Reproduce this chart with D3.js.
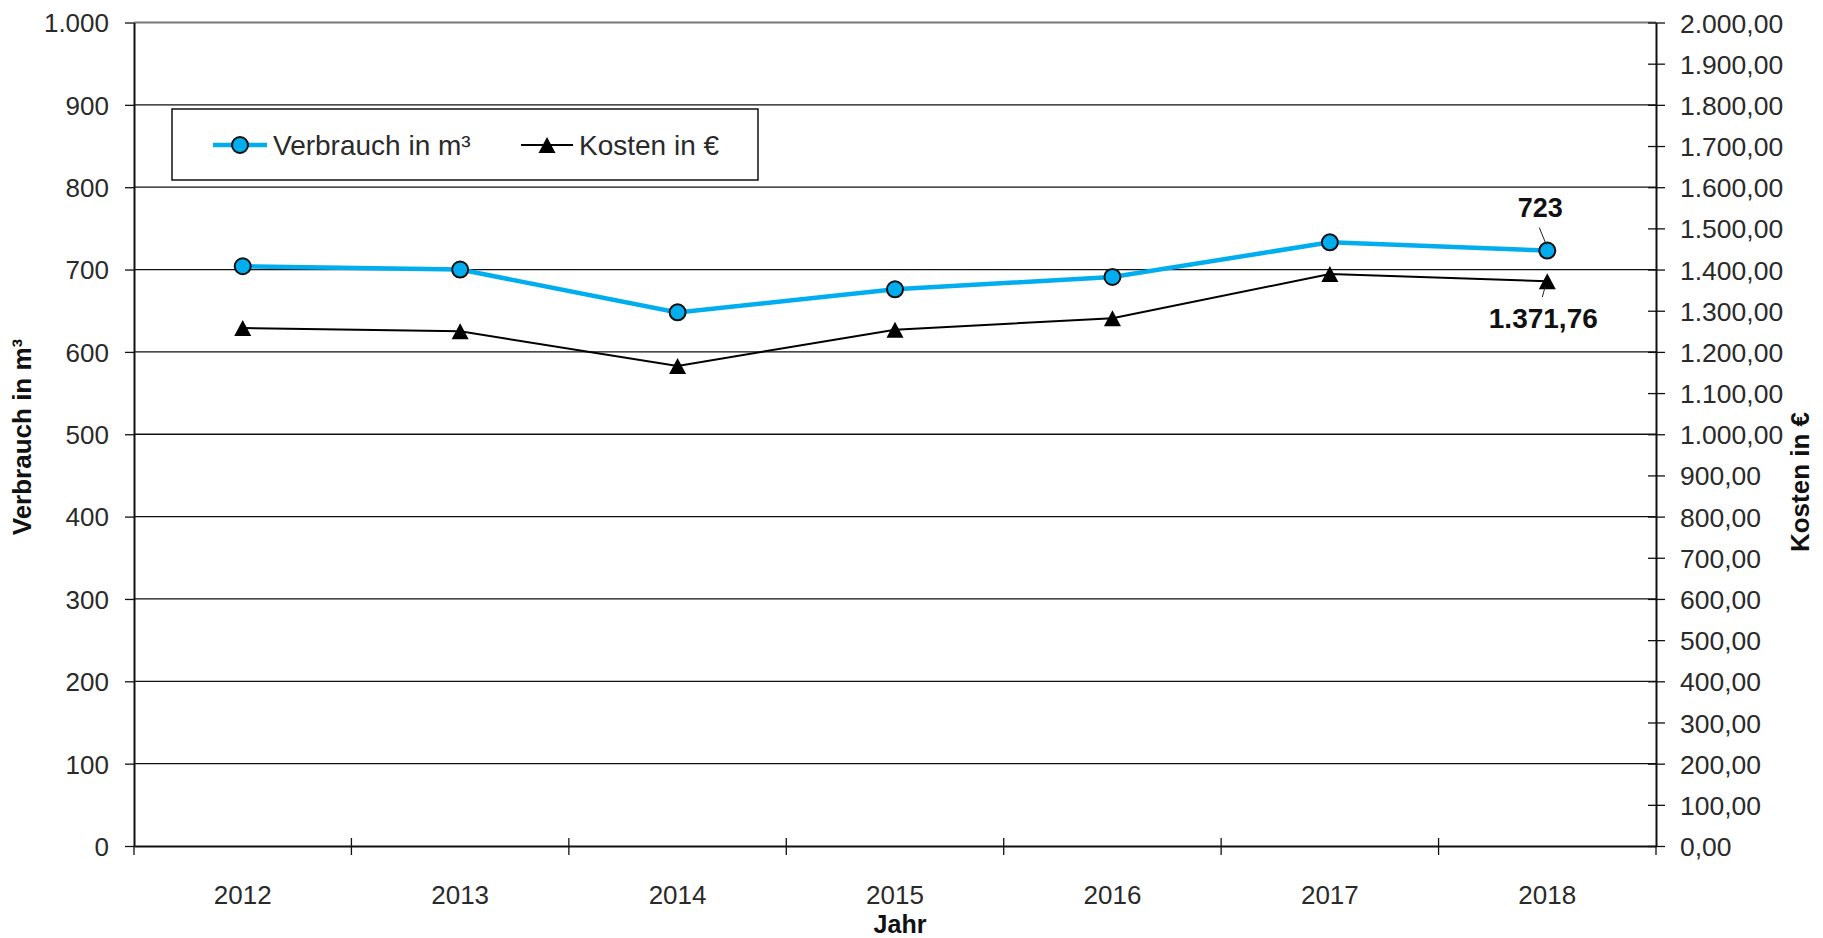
<!DOCTYPE html>
<html>
<head>
<meta charset="utf-8">
<script src="https://cdn.jsdelivr.net/npm/d3@7"></script>
<style>
  html, body { margin: 0; padding: 0; background: #ffffff; }
  svg { display: block; font-family: "Liberation Sans", Arial, sans-serif; }
</style>
</head>
<body>
<svg id="chart" width="1823" height="938"></svg>
<script>
// Jahre und Messwerte
const years = ["2012", "2013", "2014", "2015", "2016", "2017", "2018"];
const verbrauch = [704, 700, 648, 676, 691, 733, 723];          // m³
const kosten = [1258, 1250, 1166, 1254, 1282, 1389, 1371.76];   // €

// Achsenteilung
const leftTicks = [0, 100, 200, 300, 400, 500, 600, 700, 800, 900, 1000];
const rightTicks = [0, 100, 200, 300, 400, 500, 600, 700, 800, 900, 1000,
  1100, 1200, 1300, 1400, 1500, 1600, 1700, 1800, 1900, 2000];

const seriesNames = ["Verbrauch in m³", "Kosten in €"];

const de = d3.formatLocale({ decimal: ",", thousands: ".", grouping: [3], currency: ["", " €"] });
const fmtLeft = de.format(",.0f");
const fmtRight = de.format(",.2f");

const plot = { left: 134, right: 1656, top: 22.5, bottom: 846 };

const svg = d3.select("#chart");

const x = d3.scaleBand().domain(years).range([plot.left, plot.right]);
const yL = d3.scaleLinear().domain([0, 1000]).range([plot.bottom, plot.top]);
const yR = d3.scaleLinear().domain([0, 2000]).range([plot.bottom, plot.top]);
const cx = d => x(d) + x.bandwidth() / 2;

// Zeichenfläche
svg.append("rect")
  .attr("x", plot.left).attr("y", plot.top)
  .attr("width", plot.right - plot.left).attr("height", plot.bottom - plot.top)
  .attr("fill", "#ffffff");

// Gitternetzlinien
svg.append("g").selectAll("line")
  .data(leftTicks.filter(t => t > 0))
  .join("line")
  .attr("x1", plot.left).attr("x2", plot.right)
  .attr("y1", d => yL(d)).attr("y2", d => yL(d))
  .attr("stroke", d => d === 1000 ? "#777" : "#111")
  .attr("stroke-width", d => d === 1000 ? 2 : 1.3);

// linke Achse
const gL = svg.append("g")
  .attr("transform", `translate(${plot.left},0)`)
  .call(d3.axisLeft(yL).tickValues(leftTicks).tickFormat(fmtLeft).tickSizeInner(9).tickSizeOuter(0));
gL.select(".domain").attr("stroke", "#111").attr("stroke-width", 2);
gL.selectAll(".tick line").attr("stroke", "#111").attr("stroke-width", 1.3);
gL.selectAll(".tick text")
  .attr("x", -25).attr("dy", "0.36em")
  .attr("font-size", 26).attr("fill", "#2a2a2a");

// rechte Achse
const gR = svg.append("g")
  .attr("transform", `translate(${plot.right},0)`)
  .call(d3.axisRight(yR).tickValues(rightTicks).tickFormat(fmtRight).tickSizeInner(9).tickSizeOuter(0));
gR.select(".domain").attr("stroke", "#111").attr("stroke-width", 2);
gR.selectAll(".tick line").attr("x1", -8).attr("x2", 9).attr("stroke", "#111").attr("stroke-width", 1.3);
gR.selectAll(".tick text")
  .attr("x", 24).attr("dy", "0.36em")
  .attr("font-size", 26.5).attr("fill", "#2a2a2a");

// untere Achse
const gB = svg.append("g")
  .attr("transform", `translate(0,${plot.bottom})`)
  .call(d3.axisBottom(x).tickSize(0));
gB.select(".domain").attr("stroke", "#111").attr("stroke-width", 2.2);
gB.selectAll(".tick text")
  .attr("y", 49).attr("dy", "0.36em")
  .attr("font-size", 26).attr("fill", "#2a2a2a");

// Teilstriche zwischen den Jahren
const edges = years.map(d => x(d)).concat([x(years[years.length - 1]) + x.bandwidth()]);
gB.append("g").selectAll("line")
  .data(edges)
  .join("line")
  .attr("x1", d => d).attr("x2", d => d)
  .attr("y1", (d, i) => (i === 0 || i === edges.length - 1) ? 0 : -8)
  .attr("y2", 9)
  .attr("stroke", "#111").attr("stroke-width", 1.3);

// Achsentitel
svg.append("text")
  .attr("x", (plot.left + plot.right) / 2 + 5).attr("y", 924).attr("dy", "0.36em")
  .attr("text-anchor", "middle")
  .attr("font-size", 25).attr("font-weight", "bold").attr("fill", "#111")
  .text("Jahr");

svg.append("text")
  .attr("transform", "translate(22,437) rotate(-90)")
  .attr("dy", "0.36em")
  .attr("text-anchor", "middle")
  .attr("font-size", 26).attr("font-weight", "bold").attr("fill", "#111")
  .text(seriesNames[0]);

svg.append("text")
  .attr("transform", "translate(1800,482) rotate(-90)")
  .attr("dy", "0.36em")
  .attr("text-anchor", "middle")
  .attr("font-size", 26).attr("font-weight", "bold").attr("fill", "#111")
  .text(seriesNames[1]);

// Markerformen
const triW = 17, triH = 16;
const triPath = `M0,${-triH / 2}L${triW / 2},${triH / 2}L${-triW / 2},${triH / 2}Z`;
const blue = "#00AEEF";

// Kosten (rechte Achse)
svg.append("path")
  .datum(kosten)
  .attr("fill", "none").attr("stroke", "#000").attr("stroke-width", 2)
  .attr("d", d3.line().x((d, i) => cx(years[i])).y(d => yR(d)));
svg.append("g").selectAll("path")
  .data(kosten)
  .join("path")
  .attr("d", triPath)
  .attr("transform", (d, i) => `translate(${cx(years[i])},${yR(d)})`)
  .attr("fill", "#000");

// Verbrauch (linke Achse)
svg.append("path")
  .datum(verbrauch)
  .attr("fill", "none").attr("stroke", blue).attr("stroke-width", 4.5)
  .attr("d", d3.line().x((d, i) => cx(years[i])).y(d => yL(d)));
svg.append("g").selectAll("circle")
  .data(verbrauch)
  .join("circle")
  .attr("cx", (d, i) => cx(years[i])).attr("cy", d => yL(d))
  .attr("r", 8)
  .attr("fill", blue).attr("stroke", "#111").attr("stroke-width", 2);

// Beschriftung des letzten Jahres
const last = years.length - 1;
const lx = cx(years[last]);
const vY = yL(verbrauch[last]);
svg.append("line")
  .attr("x1", lx - 8).attr("y1", vY - 23).attr("x2", lx - 1).attr("y2", vY - 6)
  .attr("stroke", "#222").attr("stroke-width", 1);
svg.append("text")
  .attr("x", lx - 7).attr("y", vY - 43).attr("dy", "0.36em")
  .attr("text-anchor", "middle")
  .attr("font-size", 27).attr("font-weight", "bold").attr("fill", "#111")
  .text(fmtLeft(verbrauch[last]));

const kY = yR(kosten[last]);
svg.append("line")
  .attr("x1", lx - 2).attr("y1", kY + 5).attr("x2", lx - 5).attr("y2", kY + 16)
  .attr("stroke", "#222").attr("stroke-width", 1);
svg.append("text")
  .attr("x", lx - 4).attr("y", kY + 37).attr("dy", "0.36em")
  .attr("text-anchor", "middle")
  .attr("font-size", 28).attr("font-weight", "bold").attr("fill", "#111")
  .text(fmtRight(kosten[last]));

// Legende
const lg = svg.append("g");
lg.append("rect")
  .attr("x", 172).attr("y", 109).attr("width", 586).attr("height", 71)
  .attr("fill", "#fff").attr("stroke", "#111").attr("stroke-width", 1.5);
const legY = 145;
lg.append("line").attr("x1", 213).attr("x2", 267).attr("y1", legY).attr("y2", legY)
  .attr("stroke", blue).attr("stroke-width", 4.5);
lg.append("circle").attr("cx", 240).attr("cy", legY).attr("r", 8)
  .attr("fill", blue).attr("stroke", "#111").attr("stroke-width", 2);
lg.append("text").attr("x", 273).attr("y", legY).attr("dy", "0.36em")
  .attr("font-size", 28).attr("fill", "#2a2a2a").text(seriesNames[0]);
lg.append("line").attr("x1", 521).attr("x2", 573).attr("y1", legY).attr("y2", legY)
  .attr("stroke", "#000").attr("stroke-width", 2);
lg.append("path").attr("d", triPath).attr("transform", `translate(547,${legY})`).attr("fill", "#000");
lg.append("text").attr("x", 579).attr("y", legY).attr("dy", "0.36em")
  .attr("font-size", 28).attr("fill", "#2a2a2a").text(seriesNames[1]);

svg.selectAll(".domain").attr("fill", "none");
</script>
</body>
</html>
